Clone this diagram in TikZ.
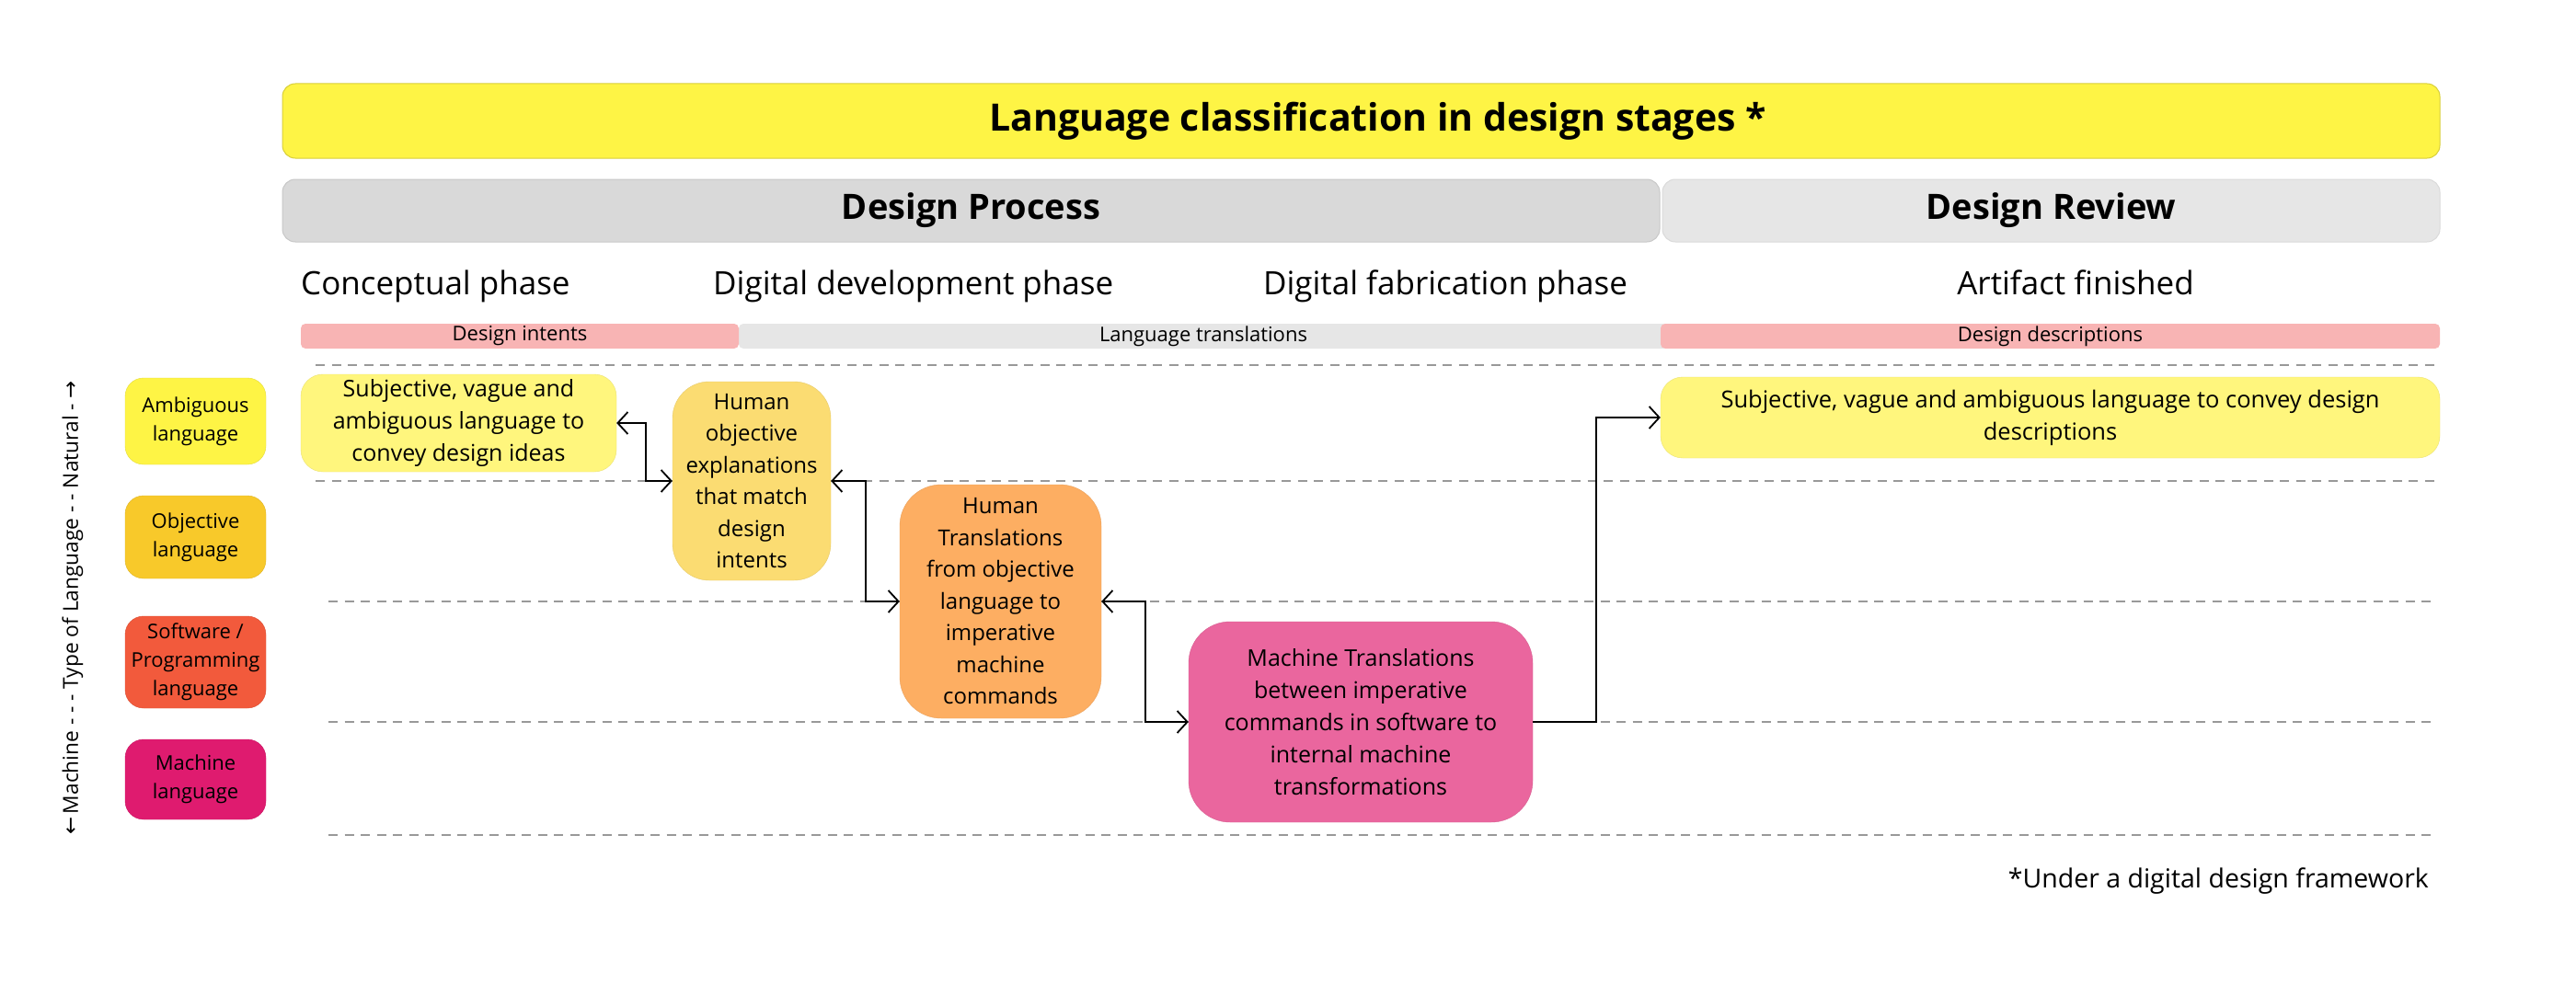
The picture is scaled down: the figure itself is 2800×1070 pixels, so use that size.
\documentclass[tikz,border=0pt]{standalone}
\usepackage{fontspec}
\setmainfont{Open Sans}
\newfontfamily\arrowfont{DejaVu Sans}
\usetikzlibrary{arrows.meta,calc}
\definecolor{titleY}{HTML}{FEF445}
\definecolor{procG}{HTML}{D9D9D9}
\definecolor{revG}{HTML}{E6E6E6}
\definecolor{pinkbar}{HTML}{F8B4B4}
\definecolor{ambY}{HTML}{FEF445}
\definecolor{objY}{HTML}{F8C92A}
\definecolor{softR}{HTML}{F25A3C}
\definecolor{machM}{HTML}{DF1B6F}
\definecolor{subjY}{HTML}{FFF67D}
\definecolor{hobjY}{HTML}{FBDC72}
\definecolor{htrO}{HTML}{FDAE62}
\definecolor{mtrP}{HTML}{EA669E}
\definecolor{dashG}{HTML}{999999}
\tikzset{
  bar/.style={rounded corners=14pt, inner sep=0pt, align=center},
  legendbox/.style={rounded corners=20pt, inner sep=0pt, align=center, minimum width=153pt,
     font=\fontsize{22}{31}\selectfont},
  contentbox/.style={inner sep=0pt, align=center, font=\fontsize{24}{34.5}\selectfont},
  phase/.style={inner sep=0pt, font=\fontsize{35}{40}\selectfont},
  smallbar/.style={inner sep=0pt, rounded corners=5pt, minimum height=27pt, align=center,
     font=\fontsize{22}{24}\selectfont},
  rowline/.style={dashG, line width=2pt, dash pattern=on 10pt off 7.5pt},
  conn/.style={black, line width=2pt},
  tip/.style={-{Straight Barb[length=11pt,width=24pt,line width=1.8pt]}},
  tips/.style={{Straight Barb[length=11pt,width=24pt,line width=1.8pt]}-{Straight Barb[length=11pt,width=24pt,line width=1.8pt]}}
}
\begin{document}
\begin{tikzpicture}[x=1pt,y=-1pt]
\useasboundingbox[fill=white] (0,0) rectangle (2800,1070);
% headers
\node[bar, fill=titleY, draw=titleY!85!black, line width=1pt, minimum width=2345pt, minimum height=81pt,
  font=\fontsize{41}{44}\selectfont\bfseries] (title) at (1479.5,131.5) {\hspace*{36pt}\raisebox{-4pt}{Language classification in design stages *}};
\node[bar, fill=procG, draw=procG!92!black, line width=1pt, minimum width=1497pt, minimum height=68pt,
  font=\fontsize{38}{44}\selectfont\bfseries] (proc) at (1055.5,229) {\raisebox{-2pt}{Design Process}};
\node[bar, fill=revG, draw=revG!95!black, line width=1pt, minimum width=845pt, minimum height=68pt,
  font=\fontsize{38}{44}\selectfont\bfseries] (rev) at (2229.5,229) {\raisebox{-2pt}{Design Review}};
% phases
\node[phase, anchor=base west] (p1) at (327,320) {Conceptual phase};
\node[phase, anchor=base west] (p2) at (775,320) {Digital development phase};
\node[phase, anchor=base] (p3) at (1571,320) {Digital fabrication phase};
\node[phase, anchor=base] (p4) at (2256,320) {Artifact finished};
% thin bars
\node[smallbar, fill=revG, minimum width=1010pt] (lt) at (1308,365.5) {Language translations};
\node[smallbar, fill=pinkbar, minimum width=476pt] (di) at (565,365.5) {Design intents};
\node[smallbar, fill=pinkbar, minimum width=847pt] (dd) at (2228.5,365.5) {Design descriptions};
% dashed row lines
\coordinate (l1a) at (343,397); \coordinate (l1b) at (2649,397);
\coordinate (l2a) at (343,523); \coordinate (l2b) at (2649,523);
\coordinate (l3a) at (357,654); \coordinate (l3b) at (2649,654);
\coordinate (l4a) at (357,785); \coordinate (l4b) at (2649,785);
\coordinate (l5a) at (357,908); \coordinate (l5b) at (2649,908);
\foreach \i in {1,...,5} {\draw[rowline] (l\i a) -- (l\i b);}
% axis label
\node[rotate=90, inner sep=0pt, font=\fontsize{22.7}{26}\selectfont] (axis) at (79,661)
  {{\arrowfont ←}\,Machine - - - Type of Language - - Natural - {\arrowfont →}};
% legend
\node[legendbox, fill=ambY, draw=ambY!90!black, minimum height=94pt] (leg1) at (212.5,458) {Ambiguous\\language};
\node[legendbox, fill=objY, draw=objY!90!black, minimum height=90pt] (leg2) at (212.5,584) {Objective\\language};
\node[legendbox, fill=softR, draw=softR!90!black, minimum height=100pt] (leg3) at (212.5,720) {Software /\\Programming\\language};
\node[legendbox, fill=machM, draw=machM!90!black, minimum height=87pt] (leg4) at (212.5,847.5) {Machine\\language};
% content boxes
\node[contentbox, rounded corners=24pt, fill=subjY, draw=subjY!92!black, minimum width=343pt, minimum height=106pt,
  font=\fontsize{25}{35}\selectfont] (subj) at (498.5,460)
  {Subjective, vague and\\ambiguous language to\\convey design ideas};
\node[contentbox, rounded corners=40pt, fill=hobjY, draw=hobjY!92!black, minimum width=172pt, minimum height=216pt] (hobj) at (817,523)
  {Human\\objective\\explanations\\that match\\design\\intents};
\node[contentbox, rounded corners=45pt, fill=htrO, draw=htrO!92!black, minimum width=219pt, minimum height=254pt] (htr) at (1087.5,654)
  {Human\\Translations\\from objective\\language to\\imperative\\machine\\commands};
\node[contentbox, rounded corners=45pt, fill=mtrP, draw=mtrP!92!black, minimum width=374pt, minimum height=218pt,
  font=\fontsize{25}{35}\selectfont] (mtr) at (1479,785)
  {Machine Translations\\between imperative\\commands in software to\\internal machine\\transformations};
\node[contentbox, rounded corners=24pt, fill=subjY, draw=subjY!92!black, minimum width=847pt, minimum height=88pt,
  font=\fontsize{25.5}{35}\selectfont] (rsubj) at (2228.5,454)
  {Subjective, vague and ambiguous language to convey design\\descriptions};
% connectors
\draw[conn, tips] (subj.east) -- ++(32,0) |- (hobj.west);
\draw[conn, tips] (hobj.east) -- ++(38,0) |- (htr.west);
\draw[conn, tips] (htr.east) -- ++(48,0) |- (mtr.west);
\draw[conn, tip] (mtr.east) -- ++(69,0) |- (rsubj.west);
% footnote
\node[inner sep=0pt, anchor=east, font=\fontsize{28.5}{34}\selectfont] (foot) at (2640,958) {*Under a digital design framework};
\end{tikzpicture}
\end{document}
